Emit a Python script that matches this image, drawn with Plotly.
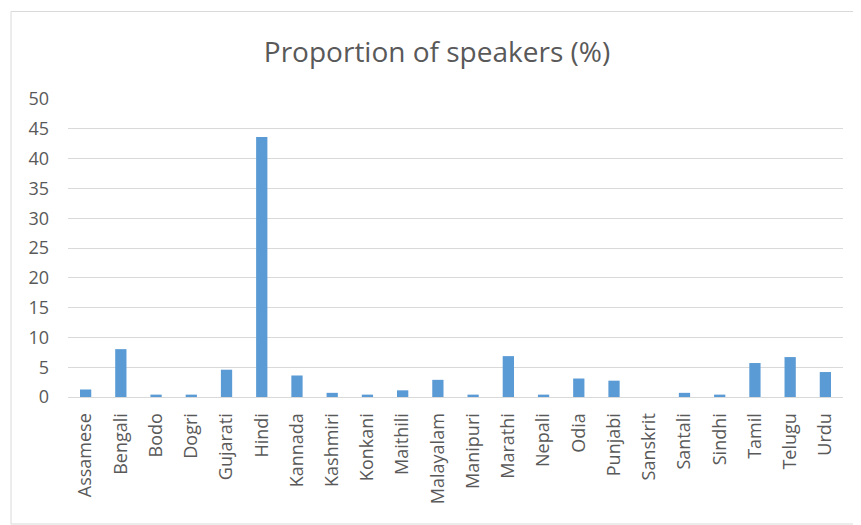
import plotly.graph_objects as go

languages = ["Assamese", "Bengali", "Bodo", "Dogri", "Gujarati", "Hindi", "Kannada",
             "Kashmiri", "Konkani", "Maithili", "Malayalam", "Manipuri", "Marathi",
             "Nepali", "Odia", "Punjabi", "Sanskrit", "Santali", "Sindhi", "Tamil",
             "Telugu", "Urdu"]
proportion = [1.26, 8.03, 0.4, 0.4, 4.58, 43.63, 3.61, 0.7, 0.4, 1.12, 2.88, 0.4,
              6.86, 0.4, 3.10, 2.74, 0.0, 0.7, 0.4, 5.70, 6.70, 4.19]
y_ticks = [0, 5, 10, 15, 20, 25, 30, 35, 40, 45, 50]

# page body has an 8px margin, so the figure starts at (8, 8) in the window
OFF = 8
W, H = 861 - OFF, 525 - OFF
L, R, T, B = 68 - OFF, 18, 99 - OFF, 128
pw, ph = W - L - R, H - T - B

def px_x(x):
    return (x - OFF - L) / pw

def px_y(y):
    return (H - B - (y - OFF)) / ph

fig = go.Figure(go.Bar(x=languages, y=proportion, marker_color="#5B9BD5",
                       marker_line_width=0))

font_fam = "Open Sans, Lato, sans-serif"
fig.update_layout(
    width=W, height=H,
    margin=dict(l=L, r=R, t=T, b=B),
    paper_bgcolor="white", plot_bgcolor="white",
    bargap=0.68,
    showlegend=False,
    title=dict(text="Proportion of speakers (%)", x=(437 - OFF) / W, xanchor="center",
               y=1 - (52 - OFF) / H, yanchor="middle",
               font=dict(family=font_fam, size=28, color="#595959")),
    font=dict(family=font_fam, color="#595959"),
    xaxis=dict(tickangle=-90, tickfont=dict(size=18, color="#595959"),
               showline=True, linecolor="#D9D9D9", linewidth=1,
               showgrid=False, ticks="", fixedrange=True, ticklabelstandoff=8),
    yaxis=dict(range=[0, 50], tickvals=y_ticks, showgrid=True, gridcolor="#D9D9D9",
               gridwidth=1, zeroline=False, showline=False, ticks="",
               tickfont=dict(size=18, color="#595959"), ticklabelstandoff=18),
    shapes=[dict(type="rect", xref="paper", yref="paper",
                 x0=px_x(11), x1=px_x(861 + 4), y0=px_y(524), y1=px_y(11.5),
                 line=dict(color="#D9D9D9", width=1), fillcolor="rgba(0,0,0,0)",
                 layer="below")],
)

fig.write_html("out.html")
